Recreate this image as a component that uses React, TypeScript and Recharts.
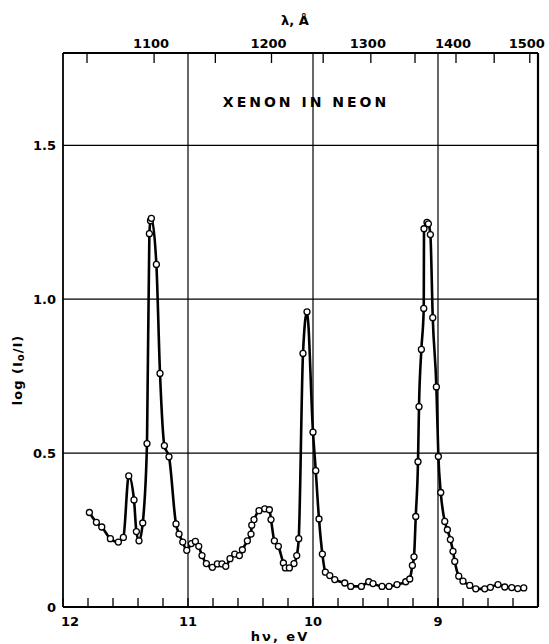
import React from 'react';
import { ComposedChart, Line, XAxis, YAxis, ReferenceLine } from 'recharts';

// photon energy (eV) of each measured point, left to right
const energyEV = [
  11.789, 11.733, 11.69, 11.621, 11.557, 11.517, 11.474, 11.432, 11.413, 11.392,
  11.362, 11.328, 11.309, 11.3, 11.293, 11.253, 11.224, 11.189, 11.152, 11.096,
  11.072, 11.042, 11.01, 10.973, 10.941, 10.914, 10.888, 10.853, 10.805, 10.765,
  10.728, 10.698, 10.664, 10.626, 10.589, 10.565, 10.525, 10.496, 10.49, 10.472,
  10.432, 10.386, 10.349, 10.336, 10.309, 10.277, 10.237, 10.221, 10.189, 10.152,
  10.13, 10.114, 10.08, 10.048, 10.0, 9.978, 9.952, 9.925, 9.901, 9.866,
  9.826, 9.746, 9.698, 9.613, 9.554, 9.52, 9.448, 9.392, 9.328, 9.258,
  9.226, 9.205, 9.192, 9.178, 9.16, 9.152, 9.133, 9.114, 9.112, 9.088,
  9.077, 9.061, 9.042, 9.013, 8.997, 8.978, 8.946, 8.925, 8.901, 8.88,
  8.866, 8.834, 8.8, 8.746, 8.698, 8.626, 8.581, 8.52, 8.466, 8.41,
  8.362, 8.314,
];

// log(I0/I) of each point
const logRatio = [
  0.307, 0.275, 0.26, 0.222, 0.211, 0.226, 0.426, 0.348, 0.245, 0.215,
  0.273, 0.531, 1.213, 1.255, 1.263, 1.113, 0.759, 0.524, 0.488, 0.27,
  0.237, 0.211, 0.184, 0.206, 0.213, 0.197, 0.167, 0.141, 0.129, 0.14,
  0.14, 0.132, 0.157, 0.172, 0.167, 0.186, 0.215, 0.237, 0.266, 0.284,
  0.313, 0.319, 0.316, 0.284, 0.215, 0.197, 0.143, 0.127, 0.127, 0.141,
  0.167, 0.222, 0.824, 0.959, 0.568, 0.443, 0.286, 0.172, 0.113, 0.102,
  0.089, 0.078, 0.067, 0.067, 0.082, 0.076, 0.067, 0.067, 0.073, 0.082,
  0.091, 0.135, 0.163, 0.294, 0.472, 0.651, 0.837, 0.97, 1.229, 1.25,
  1.245, 1.21, 0.94, 0.715, 0.489, 0.372, 0.278, 0.251, 0.219, 0.181,
  0.148, 0.1, 0.084, 0.07, 0.059, 0.059, 0.064, 0.073, 0.065, 0.063,
  0.06, 0.062,
];

const bottomTicks = [12, 11.8, 11.6, 11.4, 11.2, 11, 10.8, 10.6, 10.4, 10.2, 10, 9.8, 9.6, 9.4, 9.2, 9, 8.8, 8.6, 8.4, 8.2];
const bottomLabels = [12, 11, 10, 9];
const topWavelengths = [1050, 1100, 1150, 1200, 1250, 1300, 1350, 1400, 1450, 1500];
const topLabels = [1100, 1200, 1300, 1400, 1500];
const yTicks = [0, 0.5, 1.0, 1.5];
const gridX = [11, 10, 9];
const gridY = [0.5, 1.0, 1.5];
const HC = 12398.4; // eV·Å

const data = energyEV.map((e, i) => ({ e, v: logRatio[i] }));
const topTickEV = topWavelengths.map((l) => HC / l);

const FONT = "'DejaVu Sans', sans-serif";

const BottomTick = (props: any) => {
  const { x, y, payload } = props;
  const v = payload.value;
  const isLabel = bottomLabels.some((b) => Math.abs(b - v) < 1e-6);
  return (
    <g>
      <line x1={x} y1={y} x2={x} y2={y - 9} stroke="#000" strokeWidth={1.3} />
      {isLabel && (
        <text x={v === 12 ? x + 7 : x} y={y + 19} textAnchor="middle" fontFamily={FONT} fontWeight="bold" fontSize={13} fill="#000">
          {String(v)}
        </text>
      )}
    </g>
  );
};

const TopTick = (props: any) => {
  const { x, y, payload } = props;
  const lambda = Math.round(HC / payload.value);
  const isLabel = topLabels.includes(lambda);
  return (
    <g>
      <line x1={x} y1={y} x2={x} y2={y + 10} stroke="#000" strokeWidth={1.3} />
      {isLabel && (
        <text x={x - 3} y={y - 5} textAnchor="middle" fontFamily={FONT} fontWeight="bold" fontSize={13} fill="#000">
          {String(lambda)}
        </text>
      )}
    </g>
  );
};

const textStyle: React.CSSProperties = {
  position: 'absolute',
  fontFamily: FONT,
  fontWeight: 'bold',
  fontSize: 13,
  color: '#000',
  whiteSpace: 'nowrap',
  transform: 'translate(-50%, -50%)',
  lineHeight: 1,
};

export default function App() {
  return (
    <div style={{ position: 'absolute', left: 0, top: 0, width: 549, height: 644, background: '#fff' }}>
      <ComposedChart width={549} height={644} data={data} margin={{ top: 0, right: 0, bottom: 0, left: 0 }}>
        <XAxis
          xAxisId={0}
          dataKey="e"
          type="number"
          domain={[8.2, 12]}
          reversed
          allowDataOverflow
          ticks={bottomTicks}
          interval={0}
          height={37}
          tickSize={0}
          tickMargin={0}
          tickLine={false}
          axisLine={{ stroke: '#000', strokeWidth: 1.8 }}
          tick={<BottomTick />}
        />
        <XAxis
          xAxisId="top"
          dataKey="e"
          orientation="top"
          type="number"
          domain={[8.2, 12]}
          reversed
          allowDataOverflow
          ticks={topTickEV}
          interval={0}
          height={53}
          tickSize={0}
          tickMargin={0}
          tickLine={false}
          axisLine={{ stroke: '#000', strokeWidth: 1.8 }}
          tick={<TopTick />}
        />
        <YAxis
          yAxisId={0}
          type="number"
          domain={[0, 1.8]}
          allowDataOverflow
          ticks={yTicks}
          interval={0}
          width={63}
          tickSize={0}
          tickMargin={7}
          tickLine={false}
          axisLine={{ stroke: '#000', strokeWidth: 1.8 }}
          tickFormatter={(v: number) => (v === 0 ? '0' : v.toFixed(1))}
          tick={{ fill: '#000', fontFamily: FONT, fontWeight: 'bold', fontSize: 13 }}
        />
        <YAxis
          yAxisId="right"
          dataKey="v"
          orientation="right"
          type="number"
          domain={[0, 1.8]}
          allowDataOverflow
          width={11}
          tick={false}
          tickLine={false}
          axisLine={{ stroke: '#000', strokeWidth: 2.2 }}
        />
        {gridX.map((g) => (
          <ReferenceLine key={'gx' + g} x={g} xAxisId={0} yAxisId={0} stroke="#000" strokeWidth={1.2} />
        ))}
        {gridY.map((g) => (
          <ReferenceLine key={'gy' + g} y={g} xAxisId={0} yAxisId={0} stroke="#000" strokeWidth={1.2} />
        ))}
        <Line
          xAxisId={0}
          yAxisId={0}
          dataKey="v"
          type="monotone"
          stroke="#000"
          strokeWidth={2.6}
          dot={{ r: 3, fill: '#fff', stroke: '#000', strokeWidth: 1.3 }}
          activeDot={false}
          isAnimationActive={false}
        />
      </ComposedChart>
      <div style={{ ...textStyle, left: 295, top: 20 }}>λ, Å</div>
      <div style={{ ...textStyle, left: 306, top: 102, fontSize: 14, letterSpacing: 3 }}>XENON IN NEON</div>
      <div style={{ ...textStyle, left: 280, top: 636, letterSpacing: 2 }}>hν, eV</div>
      <div style={{ ...textStyle, left: 18, top: 370, transform: 'translate(-50%, -50%) rotate(-90deg)', letterSpacing: 1 }}>
        log (I<sub style={{ fontSize: 10, verticalAlign: '-2px' }}>o</sub>/I)
      </div>
    </div>
  );
}
